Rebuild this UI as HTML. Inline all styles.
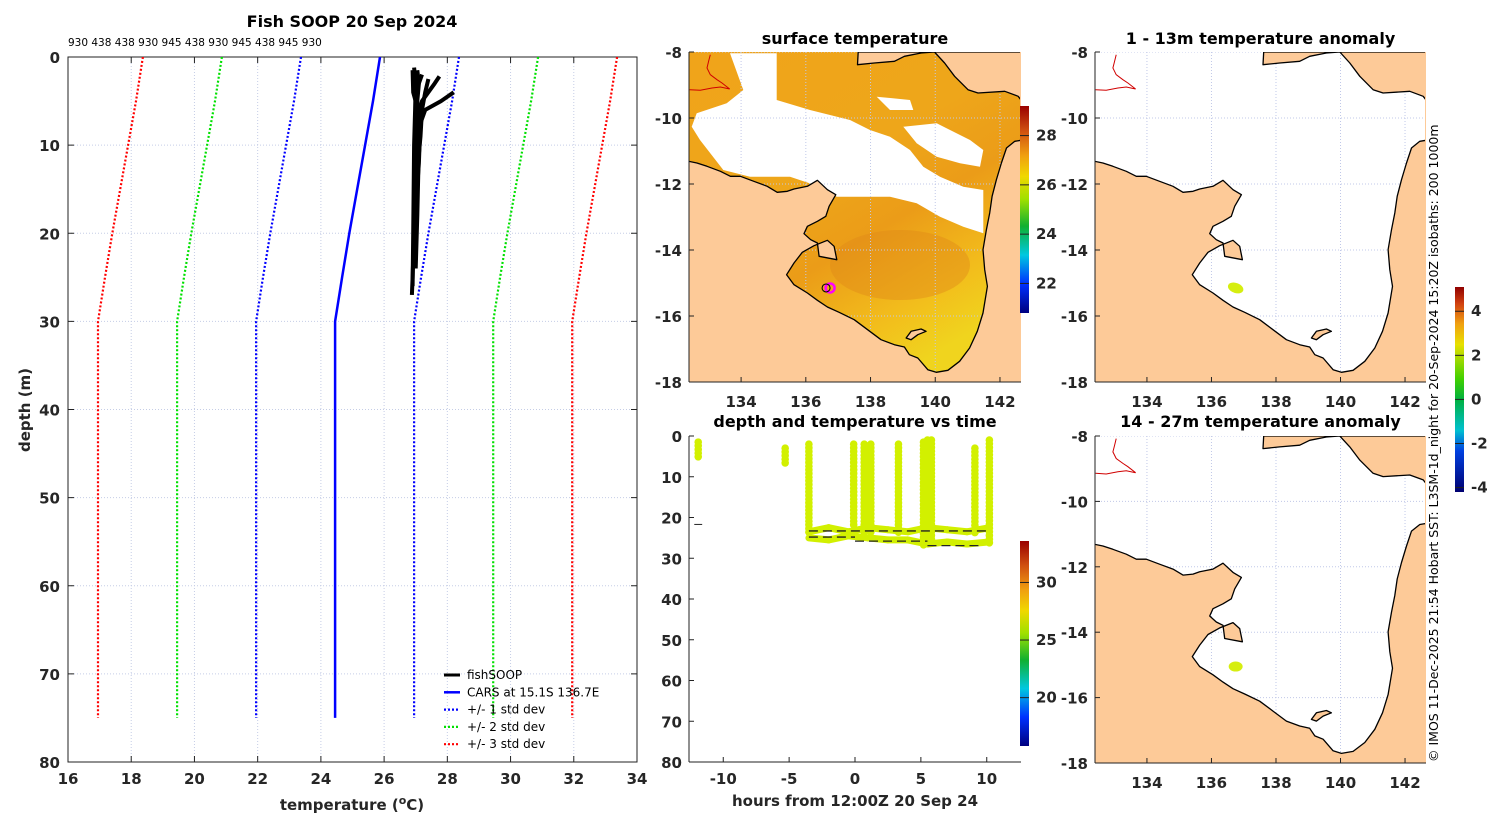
<!DOCTYPE html>
<html><head><meta charset="utf-8"><title>Fish SOOP 20 Sep 2024</title>
<style>
html,body{margin:0;padding:0;background:#fff;}
svg{display:block;font-family:"DejaVu Sans","Liberation Sans",sans-serif;}
.tk{font-size:15px;font-weight:bold;fill:#262626;}
.ttl{font-size:16px;font-weight:bold;fill:#000;}
.lg{font-size:12px;fill:#000;}
</style></head>
<body>
<svg id="fig" width="1500" height="820" viewBox="0 0 1500 820" xmlns="http://www.w3.org/2000/svg">
<defs>
<linearGradient id="jet" x1="0" y1="1" x2="0" y2="0">
<stop offset="0" stop-color="#00007f"/><stop offset="0.14" stop-color="#0030ff"/><stop offset="0.28" stop-color="#00c8e0"/><stop offset="0.42" stop-color="#10b030"/><stop offset="0.55" stop-color="#a0e000"/><stop offset="0.66" stop-color="#f0d800"/><stop offset="0.76" stop-color="#f0a010"/><stop offset="0.88" stop-color="#d05010"/><stop offset="1" stop-color="#9a0000"/>
</linearGradient>
<linearGradient id="anom" x1="0" y1="1" x2="0" y2="0">
<stop offset="0" stop-color="#000070"/><stop offset="0.2" stop-color="#0040e0"/><stop offset="0.3" stop-color="#00c0d0"/><stop offset="0.45" stop-color="#00b040"/><stop offset="0.55" stop-color="#40d000"/><stop offset="0.72" stop-color="#e8e000"/><stop offset="0.82" stop-color="#f0a010"/><stop offset="0.92" stop-color="#d04010"/><stop offset="1" stop-color="#900000"/>
</linearGradient>
<linearGradient id="sst" x1="0" y1="0" x2="0.6" y2="1">
<stop offset="0" stop-color="#f0a41a"/><stop offset="0.45" stop-color="#eea61a"/><stop offset="0.65" stop-color="#eb9c18"/><stop offset="0.85" stop-color="#f2bc1c"/><stop offset="1" stop-color="#f0d41e"/>
</linearGradient>
<clipPath id="c1"><rect x="689" y="52" width="332" height="330"/></clipPath>
<clipPath id="c2"><rect x="1095" y="52" width="331" height="330"/></clipPath>
<clipPath id="c3"><rect x="1095" y="436" width="331" height="327"/></clipPath>
<clipPath id="cp"><rect x="68" y="57" width="569" height="705"/></clipPath>
<clipPath id="cd"><rect x="689" y="436" width="332" height="326"/></clipPath>
</defs>
<g id="root"></g>
</svg>
<script>
// ---------- Profile chart data ----------
const depths = [0, 5, 10, 15, 20, 25, 30, 75];
const carsMean = [25.87, 25.65, 25.4, 25.15, 24.9, 24.67, 24.45, 24.45];
const carsStd = [2.5, 2.5, 2.5, 2.5, 2.5, 2.5, 2.5, 2.5];
const tempTicks = [16, 18, 20, 22, 24, 26, 28, 30, 32, 34];
const depthTicks = [0, 10, 20, 30, 40, 50, 60, 70, 80];
const cast1Depth = [1.5, 3, 5, 8, 12, 20, 25, 27];
const cast1Temp = [27.05, 27.1, 27.05, 27.0, 26.98, 26.95, 26.9, 26.88];
const cast2Depth = [2, 4, 6, 10, 18, 24];
const cast2Temp = [27.2, 27.0, 27.1, 27.1, 27.05, 27.0];
const cast3Depth = [2.5, 4, 6, 9, 15, 22];
const cast3Temp = [27.4, 27.3, 27.2, 27.15, 27.0, 26.95];
const cast4Depth = [2.2, 3, 5, 7, 12];
const cast4Temp = [27.75, 27.6, 27.2, 27.1, 27.0];
const cast5Depth = [4, 5, 6, 8, 14, 23];
const cast5Temp = [28.2, 27.8, 27.3, 27.1, 27.0, 27.0];
const cast6Depth = [1.2, 3, 6, 10, 20, 26];
const cast6Temp = [26.95, 27.0, 26.98, 26.95, 26.92, 26.9];
const cast7Depth = [1.5, 4, 7, 12, 18, 24];
const cast7Temp = [26.9, 26.92, 27.15, 27.1, 26.98, 26.93];
const castNumbers = "930 438 438 930 945 438 930 945 438 945 930";

// ---------- Depth vs time data ----------
const colHours = [-11.9, -5.3, -3.5, -0.1, 0.7, 1.2, 3.3, 5.2, 5.5, 5.8, 9.1, 10.2];
const colTop = [1.5, 3, 2, 2, 2, 2, 2, 1.5, 1, 1, 3, 1];
const colBottom = [5.5, 7, 24, 22, 24, 24, 24, 27, 27, 27, 24, 27];
const bandHours = [-3.5, -2, -0.5, 1, 2.5, 4, 5.5, 7, 8.5, 10.2];
const bandDepthA = [23.5, 22.5, 23.5, 22.5, 23, 23.5, 22.5, 23, 23.5, 22.5];
const bandDepthB = [25, 25.5, 24.5, 25, 25.5, 25.5, 26.5, 26, 26.5, 26];
const hourTicks = [-10, -5, 0, 5, 10];
const dtDepthTicks = [0, 10, 20, 30, 40, 50, 60, 70, 80];

// ---------- Map data ----------
const lonTicks = [134, 136, 138, 140, 142];
const latTicks = [-8, -10, -12, -14, -16, -18];
const sstTicks = [22, 24, 26, 28];
const dtTempTicks = [20, 25, 30];
const anomTicks = [4, 2, 0, -2, -4];
const shipLon = 136.75, shipLat = -15.15;

const NS = "http://www.w3.org/2000/svg";
const root = document.getElementById('root');
function mk(tag, attrs, parent) {
  const el = document.createElementNS(NS, tag);
  for (const k in attrs) el.setAttribute(k, attrs[k]);
  (parent || root).appendChild(el);
  return el;
}
function txt(x, y, s, cls, anchor, parent) {
  const t = mk('text', {x: x, y: y, class: cls, 'text-anchor': anchor || 'middle'}, parent);
  t.textContent = s;
  return t;
}

// ================= PROFILE PANEL =================
const PX0 = 68, PX1 = 637, PY0 = 57, PY1 = 762;
const px = t => PX0 + (t - 16) / 18 * (PX1 - PX0);
const py = d => PY0 + d / 80 * (PY1 - PY0);
let el;
const gP = mk('g', {});


tempTicks.forEach(t => {
  el = mk('line', {x1: px(t), x2: px(t), y1: PY0, y2: PY1, stroke: '#c5cde6', 'stroke-width': 1, 'stroke-dasharray': '1,2'}, gP);
  
  
  el = txt(px(t), 784, String(t), 'tk', 'middle', gP);
  
  
  mk('line', {x1: px(t), x2: px(t), y1: PY1, y2: PY1 - 6, stroke: '#222'}, gP);
  mk('line', {x1: px(t), x2: px(t), y1: PY0, y2: PY0 + 6, stroke: '#222'}, gP);
});
depthTicks.forEach(d => {
  el = mk('line', {x1: PX0, x2: PX1, y1: py(d), y2: py(d), stroke: '#c5cde6', 'stroke-width': 1, 'stroke-dasharray': '1,2'}, gP);
  
  
  el = txt(60, py(d) + 6, String(d), 'tk', 'end', gP);
  
  
  mk('line', {x1: PX0, x2: PX0 + 6, y1: py(d), y2: py(d), stroke: '#222'}, gP);
  mk('line', {x1: PX1, x2: PX1 - 6, y1: py(d), y2: py(d), stroke: '#222'}, gP);
});
el = mk('rect', {x: PX0, y: PY0, width: PX1 - PX0, height: PY1 - PY0, fill: 'none', stroke: '#222', 'stroke-width': 1}, gP);



function pathOf(ts, ds) { return ts.map((t, i) => (i ? 'L' : 'M') + px(t).toFixed(1) + ',' + py(ds[i]).toFixed(1)).join(''); }
const gLines = mk('g', {'clip-path': 'url(#cp)'}, gP);
[[3, '#ff0000', 'cars-3std'], [2, '#00e000', 'cars-2std'], [1, '#0000ff', 'cars-1std']].forEach(([k, c, n]) => {
  [-1, 1].forEach(s => {
    el = mk('path', {d: pathOf(carsMean.map((m, i) => m + s * k * carsStd[i]), depths), fill: 'none', stroke: c, 'stroke-width': 2.2, 'stroke-dasharray': '2,2'}, gLines);
    
    
  });
});
el = mk('path', {d: pathOf(carsMean, depths), fill: 'none', stroke: '#0000ff', 'stroke-width': 2.5}, gLines);


[[cast1Temp, cast1Depth], [cast2Temp, cast2Depth], [cast3Temp, cast3Depth], [cast4Temp, cast4Depth], [cast5Temp, cast5Depth], [cast6Temp, cast6Depth], [cast7Temp, cast7Depth]].forEach(([t, d]) => {
  el = mk('path', {d: pathOf(t, d), fill: 'none', stroke: '#000', 'stroke-width': 4, 'stroke-linejoin': 'round'}, gLines);
  
  
});
el = txt(352, 27, 'Fish SOOP 20 Sep 2024', 'ttl', 'middle', gP);


el = mk('text', {x: 68, y: 46, 'font-size': '10.5px', fill: '#000'}, gP);
el.textContent = castNumbers;


el = mk('text', {x: 0, y: 0, class: 'tk', 'font-size': '16px', transform: 'translate(30,410) rotate(-90)', 'text-anchor': 'middle'}, gP);
el.textContent = 'depth (m)';


el = mk('text', {x: 352, y: 810, class: 'tk', 'text-anchor': 'middle', 'font-size': '16px'}, gP);
el.innerHTML = 'temperature (<tspan dy="-6" font-size="11">o</tspan><tspan dy="6">C)</tspan>';


const legItems = [['fishSOOP', '#000', 'none', 3], ['CARS at 15.1S 136.7E', '#0000ff', 'none', 2.5], ['+/- 1 std dev', '#0000ff', '2,2', 2.2], ['+/- 2 std dev', '#00e000', '2,2', 2.2], ['+/- 3 std dev', '#ff0000', '2,2', 2.2]];
legItems.forEach((it, i) => {
  const y = 675 + i * 17.3;
  const g = mk('g', {}, gP);
  
  
  mk('line', {x1: 444, x2: 460, y1: y, y2: y, stroke: it[1], 'stroke-width': it[3], 'stroke-dasharray': it[2]}, g);
  txt(467, y + 4, it[0], 'lg', 'start', g);
});

// ================= MAPS =================
const zl = zx => 134 + (zx - 262) / 96.7;
const zb = zy => -8 - (zy - 67) / 99;
const ausCoast = [[105,395],[130,400],[160,410],[200,425],[230,440],[260,440],[300,455],[340,470],[370,488],[400,485],[420,478],[460,470],[490,452],[520,480],[545,495],[525,530],[515,560],[490,575],[460,590],[450,612],[470,630],[490,640],[495,680],[548,690],[540,650],[520,632],[480,648],[445,668],[420,700],[398,735],[420,765],[460,790],[490,812],[520,832],[555,848],[600,870],[640,900],[680,930],[720,945],[750,952],[765,975],[790,985],[820,1020],[845,1028],[880,1022],[915,995],[945,955],[968,905],[985,850],[998,770],[990,720],[985,660],[995,600],[1005,550],[1012,500],[1025,450],[1040,400],[1055,355],[1080,335],[1098,332],[1098,1057],[105,1057]];
const pngCoast = [[612,67],[610,105],[660,100],[720,95],[750,80],[800,70],[840,67],[870,100],[900,140],[940,180],[970,190],[1050,185],[1090,200],[1098,210],[1098,67]];
const islandA = [[755,925],[770,905],[800,898],[815,905],[790,915],[770,930]];
const redBorder = [[108,180],[140,182],[175,175],[200,172],[228,178],[205,160],[190,150],[170,135],[160,115],[165,95],[170,75]];
function mapFrame(x0, y0, x1, y1) {
  return {x: lon => x0 + (lon - 132.39) / (142.65 - 132.39) * (x1 - x0), y: lat => y0 + (-8 - lat) / 10 * (y1 - y0), x0, y0, x1, y1};
}
function polyStr(M, pts) { return pts.map(p => M.x(zl(p[0])).toFixed(1) + ',' + M.y(zb(p[1])).toFixed(1)).join(' '); }
function drawMap(M, clip, name, title, titleY, water, extra) {
  const g = mk('g', {});
  
  
  const gc = mk('g', {'clip-path': 'url(#' + clip + ')'}, g);
  el = mk('rect', {x: M.x0, y: M.y0, width: M.x1 - M.x0, height: M.y1 - M.y0, fill: water}, gc);
  
  
  if (extra) extra(gc);
  lonTicks.forEach(l => mk('line', {x1: M.x(l), x2: M.x(l), y1: M.y0, y2: M.y1, stroke: '#c0c8e8', 'stroke-dasharray': '1,2'}, gc));
  latTicks.forEach(l => mk('line', {x1: M.x0, x2: M.x1, y1: M.y(l), y2: M.y(l), stroke: '#c0c8e8', 'stroke-dasharray': '1,2'}, gc));
  [ausCoast, pngCoast, islandA].forEach(c => {
    el = mk('polygon', {points: polyStr(M, c), fill: '#fdca98', stroke: '#000', 'stroke-width': 1.3, 'stroke-linejoin': 'round'}, gc);
    
    
  });
  mk('rect', {x: M.x1 - 1, y: M.y0, width: 2, height: M.y1 - M.y0, fill: '#fdca98'}, gc);
  mk('rect', {x: M.x0, y: M.y1 - 1, width: M.x1 - M.x0, height: 2, fill: '#fdca98'}, gc);
  el = mk('polyline', {points: polyStr(M, redBorder), fill: 'none', stroke: '#d00000', 'stroke-width': 1}, gc);
  
  
  mk('line', {x1: M.x0, x2: M.x0, y1: M.y0, y2: M.y1, stroke: '#222'}, g);
  mk('line', {x1: M.x0, x2: M.x1, y1: M.y1, y2: M.y1, stroke: '#222'}, g);
  lonTicks.forEach(l => {
    mk('line', {x1: M.x(l), x2: M.x(l), y1: M.y1, y2: M.y1 - 5, stroke: '#222'}, g);
    el = txt(M.x(l), M.y1 + 25, String(l), 'tk', 'middle', g);
    
    
  });
  latTicks.forEach(l => {
    mk('line', {x1: M.x0, x2: M.x0 + 5, y1: M.y(l), y2: M.y(l), stroke: '#222'}, g);
    el = txt(M.x0 - 7, M.y(l) + 6, String(l), 'tk', 'end', g);
    
    
  });
  el = txt((M.x0 + M.x1) / 2, titleY, title, 'ttl', 'middle', g);
  
  
  return g;
}
const cloudMain = [[240,70],[380,70],[380,210],[480,240],[600,270],[660,300],[720,320],[780,360],[820,410],[870,440],[940,470],[1000,480],[1000,610],[940,590],[870,560],[800,520],[720,500],[640,500],[560,500],[510,470],[420,440],[300,440],[220,420],[150,330],[125,290],[140,250],[230,220],[280,180]];
const cloudB = [[760,290],[860,280],[960,330],[1000,360],[990,410],[930,400],[860,380],[800,340]];
const cloudC = [[680,200],[780,210],[790,240],[720,240]];
const M1 = mapFrame(689, 52, 1021, 382);
drawMap(M1, 'c1', 'surface-temperature-map', 'surface temperature', 44, 'url(#sst)', gc => {
  const cp = pts => pts.map(p => (650 + p[0] / 3).toFixed(1) + ',' + (30 + p[1] / 3).toFixed(1)).join(' ');
  el = mk('ellipse', {cx: 900, cy: 265, rx: 70, ry: 35, fill: '#e08a18', opacity: 0.45}, gc);
  
  
  [cloudMain, cloudB, cloudC].forEach(c => {
    el = mk('polygon', {points: cp(c), fill: '#fff'}, gc);
    
    
  });
});
el = mk('circle', {cx: M1.x(shipLon), cy: M1.y(shipLat), r: 4.5, fill: 'none', stroke: '#ff00ff', 'stroke-width': 2.5});


mk('circle', {cx: M1.x(shipLon) - 4, cy: M1.y(shipLat), r: 4, fill: 'none', stroke: '#000', 'stroke-width': 1});

const M2 = mapFrame(1095, 52, 1426, 382);
drawMap(M2, 'c2', 'anomaly-1-13m-map', '1 - 13m temperature anomaly', 44, '#fff', null);
el = mk('ellipse', {cx: M2.x(136.75), cy: M2.y(-15.15), rx: 8, ry: 5, fill: '#d6ee10', transform: 'rotate(20 ' + M2.x(136.75) + ' ' + M2.y(-15.15) + ')'});


const M3 = mapFrame(1095, 436, 1426, 763);
drawMap(M3, 'c3', 'anomaly-14-27m-map', '14 - 27m temperature anomaly', 427, '#fff', null);
el = mk('ellipse', {cx: M3.x(136.75), cy: M3.y(-15.05), rx: 7, ry: 5, fill: '#d6ee10'});



function colorbar(x, y0, y1, vmin, vmax, ticks, grad, name) {
  const g = mk('g', {});
  
  
  mk('rect', {x: x, y: y0, width: 9, height: y1 - y0, fill: grad}, g);
  ticks.forEach(t => {
    const y = y1 - (t - vmin) / (vmax - vmin) * (y1 - y0);
    mk('line', {x1: x, x2: x + 9, y1: y, y2: y, stroke: '#222'}, g);
    el = txt(x + 16, y + 5, String(t), 'tk', 'start', g);
    el.setAttribute('font-size', '13px');
    
    
  });
}
colorbar(1020, 106, 313, 20.8, 29.2, sstTicks, 'url(#jet)', 'sst-colorbar');
colorbar(1020, 541, 746, 15.8, 33.6, dtTempTicks, 'url(#jet)', 'depth-time-colorbar');
colorbar(1455, 287, 492, -4.2, 5.1, anomTicks, 'url(#anom)', 'anomaly-colorbar');

// ================= DEPTH vs TIME =================
const DX0 = 689, DX1 = 1021, DY0 = 436, DY1 = 762;
const dx = h => DX0 + (h + 12.6) / 25.2 * (DX1 - DX0);
const dy = d => DY0 + d / 80 * (DY1 - DY0);
const gD = mk('g', {});


const gDc = mk('g', {'clip-path': 'url(#cd)'}, gD);
const dotCol = '#d2f000';
bandHours.forEach((h, i) => { if (i === 0) return;
  [bandDepthA, bandDepthB].forEach(arr => {
    el = mk('line', {x1: dx(bandHours[i - 1]), y1: dy(arr[i - 1]), x2: dx(h), y2: dy(arr[i]), stroke: dotCol, 'stroke-width': 7, 'stroke-linecap': 'round'}, gDc);
    
    
  });
});
colHours.forEach((h, i) => {
  for (let d = colTop[i]; d <= colBottom[i]; d += 0.9) {
    el = mk('circle', {cx: dx(h), cy: dy(d), r: 3.8, fill: dotCol}, gDc);
    
    
  }
});
[[-3.5, 10.2, 23.3], [-3.5, 0, 24.8], [0, 5.5, 25.8], [5.5, 9.5, 26.9]].forEach(s => {
  el = mk('line', {x1: dx(s[0]), x2: dx(s[1]), y1: dy(s[2]), y2: dy(s[2]), stroke: '#222', 'stroke-width': 1.3, 'stroke-dasharray': '9,5'}, gDc);
  
  
});
mk('line', {x1: dx(-12.2), x2: dx(-11.6), y1: dy(21.7), y2: dy(21.7), stroke: '#222'}, gDc);
mk('line', {x1: DX0, x2: DX0, y1: DY0, y2: DY1, stroke: '#222'}, gD);
mk('line', {x1: DX0, x2: DX1, y1: DY1, y2: DY1, stroke: '#222'}, gD);
hourTicks.forEach(h => {
  mk('line', {x1: dx(h), x2: dx(h), y1: DY1, y2: DY1 - 5, stroke: '#222'}, gD);
  el = txt(dx(h), DY1 + 22, String(h), 'tk', 'middle', gD);
  
  
});
dtDepthTicks.forEach(d => {
  mk('line', {x1: DX0, x2: DX0 + 5, y1: dy(d), y2: dy(d), stroke: '#222'}, gD);
  el = txt(DX0 - 7, dy(d) + 6, String(d), 'tk', 'end', gD);
  
  
});
el = txt(855, 427, 'depth and temperature vs time', 'ttl', 'middle', gD);


el = txt(855, 806, 'hours from 12:00Z 20 Sep 24', 'tk', 'middle', gD);
el.setAttribute('font-size', '16px');



el = mk('text', {x: 0, y: 0, transform: 'translate(1438,762) rotate(-90)', 'font-size': '12.5px', fill: '#000', 'text-anchor': 'start'});
el.textContent = '\u00a9 IMOS 11-Dec-2025 21:54 Hobart SST: L3SM-1d_night for 20-Sep-2024 15:20Z isobaths: 200  1000m';


</script>
</body></html>
